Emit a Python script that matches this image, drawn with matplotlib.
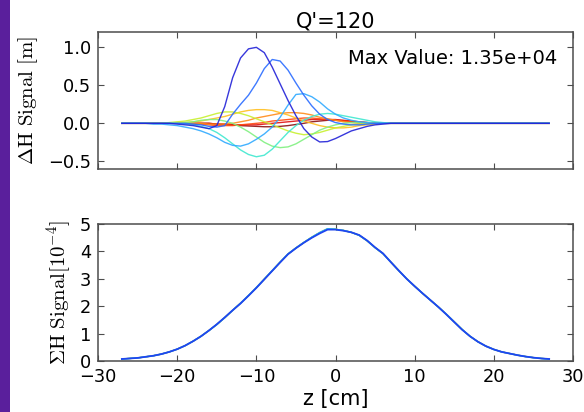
import matplotlib
matplotlib.use("Agg")
import matplotlib.pyplot as plt
from matplotlib.patches import Rectangle

plt.rcParams['mathtext.fontset'] = 'cm'
plt.rcParams['font.family'] = ['DejaVu Sans']

# ---------------- data ----------------
z = [-27, -26, -25, -24, -23, -22, -21,
     -20, -19, -18, -17, -16, -15, -14, -13, -12, -11,
     -10, -9, -8, -7, -6, -5, -4, -3, -2, -1,
     0, 1, 2, 3, 4, 5, 6, 7, 8, 9,
     10, 11, 12, 13, 14, 15, 16, 17, 18, 19,
     20, 21, 22, 23, 24, 25, 26, 27]

mode_a = [0, 0, 0, 0, 0, 0, 0,
          -0.01, -0.02, -0.03, -0.05, -0.07, -0.03, 0.22, 0.60, 0.86, 0.98,
          1.00, 0.93, 0.74, 0.52, 0.30, 0.10, -0.07, -0.18, -0.245, -0.24,
          -0.20, -0.15, -0.10, -0.07, -0.04, -0.02, -0.01, 0, 0, 0,
          0, 0, 0, 0, 0, 0, 0, 0, 0, 0,
          0, 0, 0, 0, 0, 0, 0, 0]
mode_b = [0, 0, 0, 0, 0, 0, 0,
          0, 0, -0.01, -0.02, -0.04, -0.05, -0.03, 0.12, 0.25, 0.37,
          0.53, 0.72, 0.84, 0.82, 0.70, 0.53, 0.37, 0.23, 0.12, 0.05,
          0.01, -0.01, -0.02, -0.02, -0.01, 0, 0, 0, 0, 0,
          0, 0, 0, 0, 0, 0, 0, 0, 0, 0,
          0, 0, 0, 0, 0, 0, 0, 0]
mode_c = [0, 0, 0, 0, -0.01, -0.01, -0.02,
          -0.03, -0.05, -0.07, -0.10, -0.14, -0.19, -0.25, -0.29, -0.30, -0.27,
          -0.21, -0.14, -0.05, 0.08, 0.24, 0.38, 0.39, 0.35, 0.28, 0.19,
          0.12, 0.07, 0.04, 0.02, 0.01, 0, 0, 0, 0, 0,
          0, 0, 0, 0, 0, 0, 0, 0, 0, 0,
          0, 0, 0, 0, 0, 0, 0, 0]
mode_d = [0, 0, 0, 0, 0, 0, 0,
          0, -0.01, -0.02, -0.04, -0.07, -0.12, -0.19, -0.27, -0.35, -0.41,
          -0.44, -0.42, -0.34, -0.23, -0.12, -0.03, 0.04, 0.09, 0.12, 0.13,
          0.12, 0.10, 0.08, 0.06, 0.04, 0.02, 0.01, 0, 0, 0,
          0, 0, 0, 0, 0, 0, 0, 0, 0, 0,
          0, 0, 0, 0, 0, 0, 0, 0]
mode_e = [0, 0, 0, 0, 0, 0, 0,
          0, 0.01, 0.02, 0.04, 0.05, 0.05, 0.03, 0.0, -0.05, -0.11,
          -0.18, -0.25, -0.30, -0.32, -0.31, -0.27, -0.21, -0.15, -0.09, -0.05,
          -0.02, 0, 0.01, 0.01, 0.01, 0, 0, 0, 0, 0,
          0, 0, 0, 0, 0, 0, 0, 0, 0, 0,
          0, 0, 0, 0, 0, 0, 0, 0]
mode_f = [0, 0, 0, 0, 0, 0, 0.01,
          0.02, 0.03, 0.05, 0.07, 0.10, 0.13, 0.15, 0.15, 0.13, 0.10,
          0.06, 0.02, -0.02, -0.06, -0.10, -0.13, -0.15, -0.14, -0.12, -0.09,
          -0.06, -0.04, -0.02, -0.01, 0, 0, 0, 0, 0, 0,
          0, 0, 0, 0, 0, 0, 0, 0, 0, 0,
          0, 0, 0, 0, 0, 0, 0, 0]
mode_g = [0, 0, 0, 0, 0, 0, 0,
          0.01, 0.01, 0.02, 0.03, 0.05, 0.07, 0.09, 0.12, 0.15, 0.17,
          0.18, 0.18, 0.17, 0.14, 0.11, 0.07, 0.03, 0.0, -0.03, -0.05,
          -0.06, -0.06, -0.05, -0.03, -0.02, -0.01, 0, 0, 0, 0,
          0, 0, 0, 0, 0, 0, 0, 0, 0, 0,
          0, 0, 0, 0, 0, 0, 0, 0]
mode_h = [0, 0, 0, 0, 0, 0, 0,
          0, 0, 0, 0, -0.01, -0.01, -0.01, 0.0, 0.02, 0.04,
          0.07, 0.09, 0.11, 0.13, 0.14, 0.14, 0.13, 0.11, 0.08, 0.06,
          0.04, 0.02, 0.01, 0, 0, 0, 0, 0, 0, 0,
          0, 0, 0, 0, 0, 0, 0, 0, 0, 0,
          0, 0, 0, 0, 0, 0, 0, 0]
mode_i = [0, 0, 0, 0, 0, 0, 0,
          0, 0, -0.01, -0.01, -0.02, -0.03, -0.03, -0.03, -0.02, -0.01,
          0.0, 0.01, 0.03, 0.04, 0.05, 0.06, 0.07, 0.07, 0.06, 0.05,
          0.04, 0.03, 0.02, 0.01, 0, 0, 0, 0, 0, 0,
          0, 0, 0, 0, 0, 0, 0, 0, 0, 0,
          0, 0, 0, 0, 0, 0, 0, 0]
mode_k = [0, 0, 0, 0, 0, 0, 0,
          0, 0, 0, 0, 0, -0.01, -0.01, -0.02, -0.02, -0.02,
          -0.02, -0.01, 0.0, 0.01, 0.02, 0.03, 0.04, 0.05, 0.05, 0.05,
          0.05, 0.04, 0.03, 0.02, 0.01, 0, 0, 0, 0, 0,
          0, 0, 0, 0, 0, 0, 0, 0, 0, 0,
          0, 0, 0, 0, 0, 0, 0, 0]
mode_j = [0, 0, 0, 0, 0, 0, 0,
          0, 0, 0, 0, 0, -0.01, -0.015, -0.02, -0.03, -0.035,
          -0.04, -0.045, -0.045, -0.04, -0.03, -0.015, 0.0, 0.02, 0.03, 0.04,
          0.04, 0.035, 0.025, 0.015, 0.01, 0.005, 0, 0, 0, 0,
          0, 0, 0, 0, 0, 0, 0, 0, 0, 0,
          0, 0, 0, 0, 0, 0, 0, 0]

# drawn first -> last
delta_modes = [mode_j, mode_k, mode_i, mode_h, mode_g, mode_f, mode_e, mode_d, mode_c, mode_b, mode_a]
delta_colors = ['#8c1010', '#e01010', '#ff4a10', '#ff8c1a', '#ffbf20', '#c8f030',
                '#80f080', '#40e8d0', '#30aaff', '#2a6cff', '#2222d8']

sigma_main = [0.07, 0.09, 0.11, 0.15, 0.19, 0.25, 0.33,
              0.43, 0.56, 0.72, 0.90, 1.11, 1.34, 1.59, 1.85, 2.10, 2.38,
              2.67, 2.98, 3.29, 3.60, 3.90, 4.12, 4.32, 4.50, 4.66, 4.80,
              4.80, 4.76, 4.70, 4.60, 4.40, 4.15, 3.93, 3.61, 3.30, 3.00,
              2.73, 2.47, 2.22, 1.97, 1.70, 1.42, 1.14, 0.90, 0.70, 0.54,
              0.42, 0.33, 0.27, 0.21, 0.16, 0.12, 0.09, 0.07]
sigma_alt = [0.07, 0.09, 0.11, 0.15, 0.19, 0.25, 0.33,
             0.43, 0.56, 0.72, 0.90, 1.11, 1.33, 1.58, 1.85, 2.11, 2.39,
             2.68, 2.99, 3.30, 3.61, 3.91, 4.13, 4.33, 4.52, 4.69, 4.83,
             4.81, 4.77, 4.70, 4.59, 4.39, 4.14, 3.92, 3.61, 3.30, 3.00,
             2.73, 2.47, 2.22, 1.97, 1.71, 1.43, 1.15, 0.90, 0.70, 0.54,
             0.42, 0.33, 0.27, 0.21, 0.16, 0.12, 0.09, 0.07]
sigma_colors = ['#ff8c1a', '#c8f030', '#40e8d0', '#30aaff']
sigma_top_color = '#1f45f0'

title_text = "Q'=120"
max_text = 'Max Value: 1.35e+04'
xticks = [-30, -20, -10, 0, 10, 20, 30]
yticks_top = [-0.5, 0.0, 0.5, 1.0]
yticklabels_top = ['\u22120.5', '0.0', '0.5', '1.0']
yticks_bot = [0, 1, 2, 3, 4, 5]

# ---------------- figure ----------------
fig = plt.figure(figsize=(5.84, 4.12), dpi=100)
fig.patches.append(Rectangle((0, 0), 10 / 584, 1, transform=fig.transFigure,
                             facecolor='#5a1f9c', edgecolor='none', zorder=0))

ax1 = fig.add_axes([0.168, 0.590, 0.813, 0.332])
ax2 = fig.add_axes([0.168, 0.124, 0.813, 0.332])

for ax in (ax1, ax2):
    ax.tick_params(direction='in', top=True, right=True, length=4, width=0.8,
                   labelsize=12.75, pad=5, color='0.3')
    for sp in ax.spines.values():
        sp.set_color('0.3')
        sp.set_linewidth(1.1)
    ax.set_xlim(-30, 30)
    ax.set_xticks(xticks)

for vals, col in zip(delta_modes, delta_colors):
    ax1.plot(z, vals, color=col, lw=1.0, alpha=0.9)
ax1.set_ylim(-0.6, 1.2)
ax1.set_yticks(yticks_top)
ax1.set_yticklabels(yticklabels_top)
ax1.set_xticklabels([])
ax1.set_title(title_text, fontsize=15, pad=3)
ax1.text(0.526, 0.81, max_text, transform=ax1.transAxes, fontsize=14, va='center', ha='left')
ax1.set_ylabel(r'$\Delta\mathrm{H\ Signal\ [m]}$', fontsize=15, labelpad=6)

for col in sigma_colors:
    ax2.plot(z, sigma_alt, color=col, lw=1.0)
ax2.plot(z, sigma_main, color=sigma_top_color, lw=1.3)
ax2.set_ylim(0, 5)
ax2.set_yticks(yticks_bot)
ax2.set_xlabel('z [cm]', fontsize=15, labelpad=2)
ax2.set_ylabel(r'$\Sigma\mathrm{H\ Signal[10^{-4}]}$', fontsize=15, labelpad=4)

fig.savefig('out.png', dpi=100)
